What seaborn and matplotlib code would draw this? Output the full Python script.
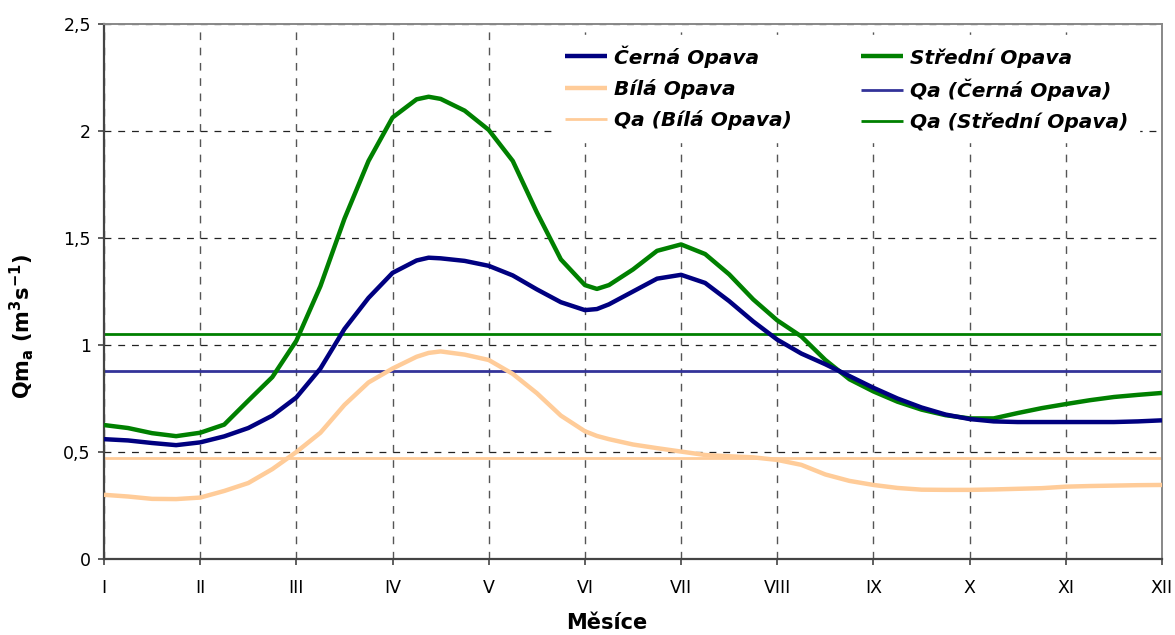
import matplotlib
matplotlib.use("Agg")
import matplotlib.pyplot as plt
import seaborn as sns
import pandas as pd

# ---- data ----
months = [1.0, 1.25, 1.5, 1.75, 2.0, 2.25, 2.5, 2.75, 3.0, 3.25, 3.5, 3.75,
          4.0, 4.25, 4.375, 4.5, 4.75, 5.0, 5.25, 5.5, 5.75, 6.0, 6.125, 6.25, 6.5, 6.75,
          7.0, 7.25, 7.5, 7.75, 8.0, 8.25, 8.5, 8.75, 9.0, 9.25, 9.5, 9.75,
          10.0, 10.25, 10.5, 10.75, 11.0, 11.25, 11.5, 11.75, 12.0]

cerna = [0.560, 0.554, 0.542, 0.532, 0.545, 0.573, 0.612, 0.670, 0.755, 0.890, 1.075, 1.220,
         1.337, 1.395, 1.408, 1.405, 1.393, 1.370, 1.325, 1.260, 1.200, 1.163, 1.168, 1.190, 1.250, 1.310,
         1.328, 1.290, 1.205, 1.110, 1.025, 0.960, 0.910, 0.855, 0.800, 0.750, 0.708, 0.675,
         0.654, 0.643, 0.640, 0.640, 0.640, 0.640, 0.640, 0.643, 0.648]

stredni = [0.626, 0.612, 0.588, 0.574, 0.590, 0.628, 0.740, 0.850, 1.020, 1.275, 1.590, 1.860,
           2.063, 2.148, 2.160, 2.150, 2.095, 2.005, 1.860, 1.620, 1.400, 1.280, 1.262, 1.280, 1.353, 1.440,
           1.470, 1.425, 1.330, 1.213, 1.115, 1.040, 0.930, 0.840, 0.783, 0.735, 0.698, 0.672,
           0.657, 0.657, 0.682, 0.705, 0.724, 0.742, 0.757, 0.767, 0.776]

bila = [0.300, 0.292, 0.281, 0.280, 0.287, 0.318, 0.355, 0.420, 0.500, 0.590, 0.720, 0.825,
        0.890, 0.945, 0.963, 0.970, 0.955, 0.930, 0.865, 0.775, 0.670, 0.597, 0.575, 0.560, 0.535, 0.518,
        0.502, 0.486, 0.480, 0.475, 0.463, 0.440, 0.395, 0.365, 0.346, 0.332, 0.324, 0.323,
        0.323, 0.325, 0.328, 0.331, 0.338, 0.341, 0.343, 0.345, 0.346]

qa_cerna = 0.88
qa_stredni = 1.05
qa_bila = 0.47

month_labels = ["I", "II", "III", "IV", "V", "VI", "VII", "VIII", "IX", "X", "XI", "XII"]
y_ticks = [0, 0.5, 1, 1.5, 2, 2.5]
y_tick_labels = ["0", "0,5", "1", "1,5", "2", "2,5"]

# ---- style ----
sns.set_style("white")
plt.rcParams["font.family"] = ["DejaVu Sans"]
plt.rcParams["text.color"] = "black"
plt.rcParams["axes.labelcolor"] = "black"
plt.rcParams["mathtext.fontset"] = "custom"
plt.rcParams["mathtext.rm"] = "DejaVu Sans:bold"
plt.rcParams["mathtext.default"] = "rm"

fig = plt.figure(figsize=(11.75, 6.35), dpi=100)
ax = fig.add_axes([104 / 1175, 1 - 559 / 635, (1162 - 104) / 1175, (559 - 24) / 635])

c_navy = "#000080"
c_green = "#008000"
c_peach = "#FFCC99"
c_qnavy = "#333399"

x_ends = [months[0], months[-1]]
df = pd.DataFrame({"m": months, "cerna": cerna, "stredni": stredni, "bila": bila})

# Qa lines first (below curves)
sns.lineplot(x=x_ends, y=[qa_bila, qa_bila], ax=ax, color=c_peach, lw=2.0, label="Qa (Bílá Opava)", zorder=2)
sns.lineplot(x=x_ends, y=[qa_cerna, qa_cerna], ax=ax, color=c_qnavy, lw=2.0, label="Qa (Černá Opava)", zorder=2)
sns.lineplot(x=x_ends, y=[qa_stredni, qa_stredni], ax=ax, color=c_green, lw=2.0, label="Qa (Střední Opava)", zorder=2)

sns.lineplot(data=df, x="m", y="bila", ax=ax, color=c_peach, lw=3.2, label="Bílá Opava", zorder=3)
sns.lineplot(data=df, x="m", y="stredni", ax=ax, color=c_green, lw=3.2, label="Střední Opava", zorder=4)
sns.lineplot(data=df, x="m", y="cerna", ax=ax, color=c_navy, lw=3.2, label="Černá Opava", zorder=5)

for ln in ax.get_lines():
    ln.set_solid_joinstyle("round")
    ln.set_solid_capstyle("butt")

ax.set_xlim(1, 12)
ax.set_ylim(0, 2.5)
ax.set_xticks(range(1, 13))
ax.set_xticklabels(month_labels)
ax.set_yticks(y_ticks)
ax.set_yticklabels(y_tick_labels)

ax.grid(True, which="major", axis="x", color="#555555", linestyle=(0, (5.5, 5.5)), linewidth=1.0)
ax.grid(True, which="major", axis="y", color="#222222", linestyle=(0, (5.5, 5.5)), linewidth=0.9)
ax.set_axisbelow(True)

for side in ["left", "bottom"]:
    ax.spines[side].set_color("#444444")
    ax.spines[side].set_linewidth(1.6)
for side in ["top", "right"]:
    ax.spines[side].set_color("#888888")
    ax.spines[side].set_linewidth(1.4)

ax.tick_params(axis="both", which="major", labelsize=12.5, colors="#444444", labelcolor="black",
               length=4.5, width=1.2, direction="out")
ax.tick_params(axis="x", pad=10, bottom=True)
ax.tick_params(axis="y", pad=5, left=True)

ax.set_xlabel("Měsíce", fontsize=15, fontweight="bold", color="black")
ax.set_ylabel(r"Qm$_\mathrm{a}$ (m$^\mathrm{3}$s$^\mathrm{-1}$)", fontsize=15, fontweight="bold", color="black")
ax.xaxis.set_label_coords((607 - 104) / 1058, (559 - 613) / 535)
ax.yaxis.set_label_coords((22 - 104) / 1058, (559 - 326) / 535)
ax.xaxis.label.set_va("top")
ax.yaxis.label.set_va("center")

h, l = ax.get_legend_handles_labels()
lut = dict(zip(l, h))
order = ["Černá Opava", "Bílá Opava", "Qa (Bílá Opava)",
         "Střední Opava", "Qa (Černá Opava)", "Qa (Střední Opava)"]
leg = ax.legend([lut[k] for k in order], order, ncol=2, loc="upper left",
                bbox_to_anchor=((555 - 104) / 1058, (559 - 35) / 535),
                borderaxespad=0, borderpad=0.5, frameon=True, fancybox=False,
                framealpha=1, facecolor="white", edgecolor="white",
                handlelength=2.1, handletextpad=0.35, columnspacing=3.4,
                labelspacing=0.55,
                prop={"family": "DejaVu Sans", "weight": "bold", "style": "italic", "size": 14.5})
leg.set_zorder(6)
for t in leg.get_texts():
    t.set_color("black")

fig.savefig("out.png", dpi=100)
